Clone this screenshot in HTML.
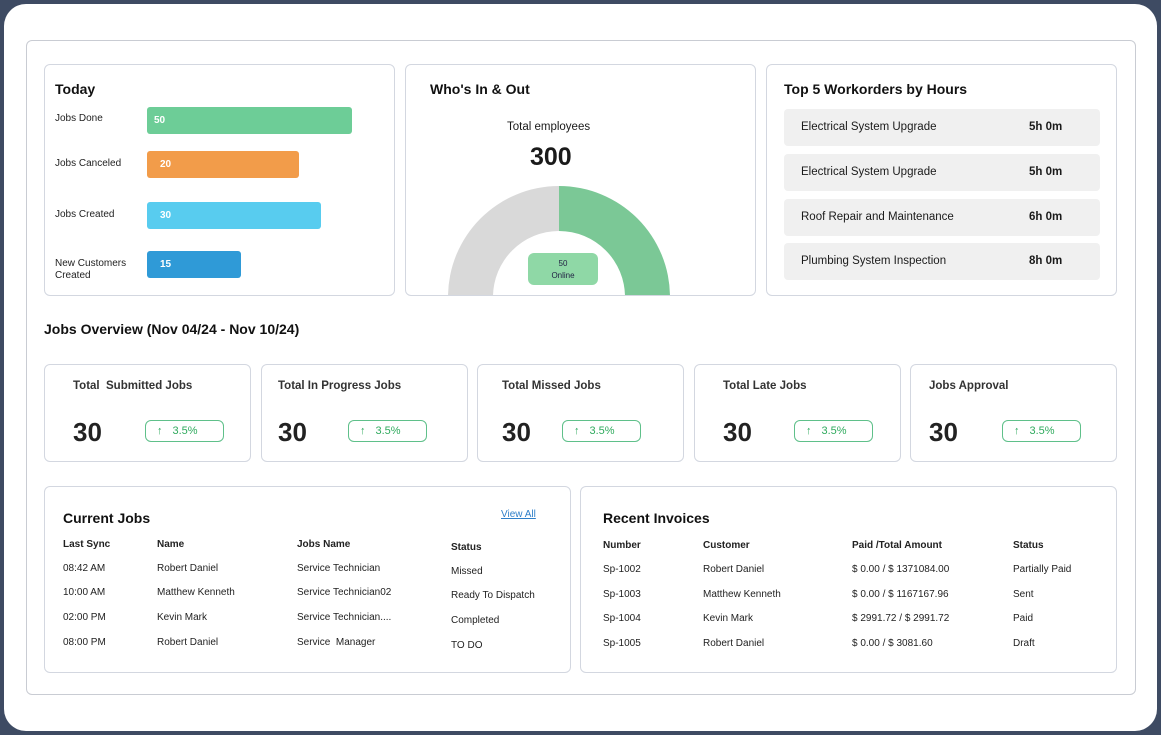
<!DOCTYPE html>
<html><head><meta charset="utf-8"><style>
*{box-sizing:border-box;margin:0;padding:0}
body{width:1161px;height:735px;background:#3e4b63;font-family:"Liberation Sans",sans-serif;color:#1a1a1a;position:relative;overflow:hidden}
.frame{position:absolute;left:4px;top:4px;width:1153px;height:727px;background:#fff;border-radius:22px}
.c{position:absolute;border:1px solid #d3d7e0;border-radius:6px;background:#fff;overflow:hidden}
.a{position:absolute;white-space:nowrap}
.t{font-size:14px;font-weight:bold;color:#111}
.s{font-size:10px;color:#222}
.bar{position:absolute;height:27px;border-radius:3px;color:#fff;font-size:10px;font-weight:bold;line-height:27px;padding-left:7px}
.row{position:absolute;left:17px;width:316px;height:37px;background:#f0f0f0;border-radius:4px;font-size:11.5px;line-height:37px}
.row span{position:absolute;left:17px}
.row b{position:absolute;left:245px;font-weight:bold}
.kpi .n{position:absolute;left:28px;top:52px;font-size:26px;font-weight:bold;color:#222}
.kpi .l{position:absolute;left:28px;top:15px;font-size:11.5px;font-weight:bold;color:#333}
.pill{position:absolute;top:55px;width:79px;height:22px;border:1px solid #5fc08a;border-radius:6px;color:#2faa5d;font-size:11px;line-height:20px;padding-left:11px}
.pill i{font-style:normal;font-weight:bold;margin-right:10px}
.tb{font-size:10px;color:#222}
.th{font-size:10px;font-weight:bold;color:#222}
</style></head><body>
<div class="frame"></div>
<div class="c" style="left:26px;top:40px;width:1110px;height:655px;border-color:#c9ccd3"></div>

<div class="c" style="left:44px;top:64px;width:351px;height:232px">
<div class="a t" style="left:10px;top:16px;font-size:14px">Today</div>
<div class="a s" style="left:10px;top:48px">Jobs Done</div>
<div class="bar" style="left:102px;top:42px;width:205px;background:#6dcd97">50</div>
<div class="a s" style="left:10px;top:93px">Jobs Canceled</div>
<div class="bar" style="left:102px;top:86px;width:152px;background:#f29c4a;padding-left:13px">20</div>
<div class="a s" style="left:10px;top:144px">Jobs Created</div>
<div class="bar" style="left:102px;top:137px;width:174px;background:#58ccef;padding-left:13px">30</div>
<div class="a s" style="left:10px;top:193px;line-height:12px">New Customers<br>Created</div>
<div class="bar" style="left:102px;top:186px;width:94px;background:#2f9ad7;padding-left:13px">15</div>
</div>

<div class="c" style="left:405px;top:64px;width:351px;height:232px">
<svg width="351" height="232" style="position:absolute;left:0;top:0">
<path d="M42 232 A111 111 0 0 1 153 121 L153 166 A66 66 0 0 0 87 232 Z" fill="#d9d9d9"/>
<path d="M153 121 A111 111 0 0 1 264 232 L219 232 A66 66 0 0 0 153 166 Z" fill="#7bc896"/>
<rect x="122" y="188" width="70" height="32" rx="6" fill="#8fd8a6"/>
<text x="157" y="201" font-size="8" text-anchor="middle" font-family="Liberation Sans" fill="#224">50</text>
<text x="157" y="213" font-size="8" text-anchor="middle" font-family="Liberation Sans" fill="#224">Online</text>
</svg>
<div class="a t" style="left:24px;top:16px">Who's In &amp; Out</div>
<div class="a" style="left:101px;top:56px;font-size:11.5px">Total employees</div>
<div class="a" style="left:124px;top:78px;font-size:25px;font-weight:bold">300</div>
</div>

<div class="c" style="left:766px;top:64px;width:351px;height:232px">
<div class="a t" style="left:17px;top:16px">Top 5 Workorders by Hours</div>
<div class="row" style="top:44px"><span>Electrical System Upgrade</span><b>5h 0m</b></div>
<div class="row" style="top:89px"><span>Electrical System Upgrade</span><b>5h 0m</b></div>
<div class="row" style="top:134px"><span>Roof Repair and Maintenance</span><b>6h 0m</b></div>
<div class="row" style="top:178px"><span>Plumbing System Inspection</span><b>8h 0m</b></div>
</div>

<div class="a t" style="left:44px;top:321px">Jobs Overview (Nov 04/24 - Nov 10/24)</div>

<div class="c kpi" style="left:44px;top:364px;width:207px;height:98px"><div class="l">Total&nbsp; Submitted Jobs</div><div class="n">30</div><div class="pill" style="left:100px"><i>↑</i>3.5%</div></div>
<div class="c kpi" style="left:261px;top:364px;width:207px;height:98px"><div class="l" style="left:16px">Total In Progress Jobs</div><div class="n" style="left:16px">30</div><div class="pill" style="left:86px"><i>↑</i>3.5%</div></div>
<div class="c kpi" style="left:477px;top:364px;width:207px;height:98px"><div class="l" style="left:24px">Total Missed Jobs</div><div class="n" style="left:24px">30</div><div class="pill" style="left:84px"><i>↑</i>3.5%</div></div>
<div class="c kpi" style="left:694px;top:364px;width:207px;height:98px"><div class="l">Total Late Jobs</div><div class="n">30</div><div class="pill" style="left:99px"><i>↑</i>3.5%</div></div>
<div class="c kpi" style="left:910px;top:364px;width:207px;height:98px"><div class="l" style="left:18px">Jobs Approval</div><div class="n" style="left:18px">30</div><div class="pill" style="left:91px"><i>↑</i>3.5%</div></div>

<div class="c" style="left:44px;top:486px;width:527px;height:187px">
<div class="a t" style="left:18px;top:23px">Current Jobs</div>
<div class="a" style="left:456px;top:22px;font-size:10px;color:#2f7fc9;text-decoration:underline">View All</div>
<div class="a th" style="left:18px;top:52px">Last Sync</div><div class="a th" style="left:112px;top:52px">Name</div><div class="a th" style="left:252px;top:52px">Jobs Name</div><div class="a th" style="left:406px;top:55px">Status</div>
<div class="a tb" style="left:18px;top:76px">08:42 AM</div><div class="a tb" style="left:112px;top:76px">Robert Daniel</div><div class="a tb" style="left:252px;top:76px">Service Technician</div><div class="a tb" style="left:406px;top:79px">Missed</div>
<div class="a tb" style="left:18px;top:100px">10:00 AM</div><div class="a tb" style="left:112px;top:100px">Matthew Kenneth</div><div class="a tb" style="left:252px;top:100px">Service Technician02</div><div class="a tb" style="left:406px;top:103px">Ready To Dispatch</div>
<div class="a tb" style="left:18px;top:125px">02:00 PM</div><div class="a tb" style="left:112px;top:125px">Kevin Mark</div><div class="a tb" style="left:252px;top:125px">Service Technician....</div><div class="a tb" style="left:406px;top:128px">Completed</div>
<div class="a tb" style="left:18px;top:150px">08:00 PM</div><div class="a tb" style="left:112px;top:150px">Robert Daniel</div><div class="a tb" style="left:252px;top:150px">Service&nbsp; Manager</div><div class="a tb" style="left:406px;top:153px">TO DO</div>
</div>

<div class="c" style="left:580px;top:486px;width:537px;height:187px">
<div class="a t" style="left:22px;top:23px">Recent Invoices</div>
<div class="a th" style="left:22px;top:53px">Number</div><div class="a th" style="left:122px;top:53px">Customer</div><div class="a th" style="left:271px;top:53px">Paid /Total Amount</div><div class="a th" style="left:432px;top:53px">Status</div>
<div class="a tb" style="left:22px;top:77px">Sp-1002</div><div class="a tb" style="left:122px;top:77px">Robert Daniel</div><div class="a tb" style="left:271px;top:77px">$ 0.00 / $ 1371084.00</div><div class="a tb" style="left:432px;top:77px">Partially Paid</div>
<div class="a tb" style="left:22px;top:102px">Sp-1003</div><div class="a tb" style="left:122px;top:102px">Matthew Kenneth</div><div class="a tb" style="left:271px;top:102px">$ 0.00 / $ 1167167.96</div><div class="a tb" style="left:432px;top:102px">Sent</div>
<div class="a tb" style="left:22px;top:126px">Sp-1004</div><div class="a tb" style="left:122px;top:126px">Kevin Mark</div><div class="a tb" style="left:271px;top:126px">$ 2991.72 / $ 2991.72</div><div class="a tb" style="left:432px;top:126px">Paid</div>
<div class="a tb" style="left:22px;top:151px">Sp-1005</div><div class="a tb" style="left:122px;top:151px">Robert Daniel</div><div class="a tb" style="left:271px;top:151px">$ 0.00 / $ 3081.60</div><div class="a tb" style="left:432px;top:151px">Draft</div>
</div>
</body></html>
